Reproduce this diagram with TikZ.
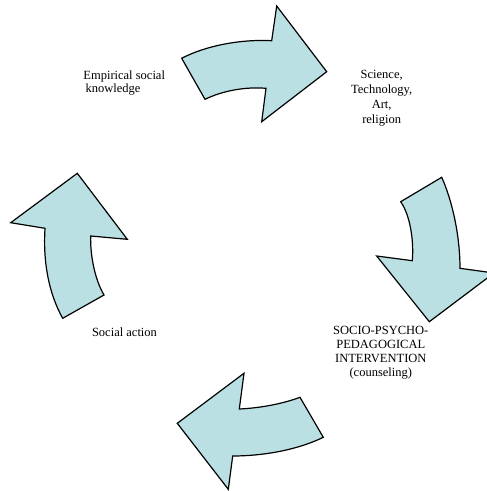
\documentclass[tikz,border=0pt]{standalone}
\usepackage{fontspec}
\setmainfont{Liberation Serif}
\definecolor{arrowblue}{RGB}{187,224,227}

\begin{document}
\begin{tikzpicture}[x=1pt,y=-1pt,
  cyclearrow/.style={fill=arrowblue, draw=black, line width=1.2pt, line join=miter},
  steplabel/.style={inner sep=0pt, align=center, font=\fontsize{12.5}{15}\selectfont}]
\clip (0,0) rectangle (487,491);

% top arrow
\draw[cyclearrow] (181.7,58.3) .. controls (205,46) and (240,39) .. (271.7,40.7)
  -- (276.7,6) -- (326.7,71.7) -- (261.7,121.7) -- (266,88.3)
  .. controls (245,86.5) and (222,91) .. (205,99.3) -- cycle;

% right arrow
\draw[cyclearrow] (400.7,201.7) -- (441.7,177.3)
  .. controls (452,200) and (460,235) .. (460,268.3)
  -- (494,273) -- (429.3,321.7) -- (376.7,256) -- (412.3,260.7)
  .. controls (414,240) and (410,215) .. cycle;

% bottom arrow
\draw[cyclearrow] (300,397.3) -- (323.3,437.3)
  .. controls (295,451) and (260,456) .. (232.7,456)
  -- (228.3,489.3) -- (177.3,423.3) -- (244,373.3) -- (239.3,409)
  .. controls (260,408) and (282,404) .. cycle;

% left arrow
\draw[cyclearrow] (62.7,318.3) -- (104,295)
  .. controls (95,280) and (90,255) .. (90.7,236)
  -- (127.3,239.3) -- (77.3,173.3) -- (10.7,222.7) -- (45,228.3)
  .. controls (43,260) and (48,292) .. cycle;

% stage labels
\node[steplabel, align=left, font=\fontsize{12.5}{12.5}\selectfont] (empirical) at (124.2,83) {Empirical social\\\,knowledge};
\node[steplabel] (science) at (381.7,98) {Science,\\Technology,\\Art,\\religion};
\node[steplabel, font=\fontsize{12.5}{14}\selectfont] (intervention) at (380.8,353) {SOCIO-PSYCHO-\\PEDAGOGICAL\\INTERVENTION\\(counseling)};
\node[steplabel] (action) at (124.5,332) {Social action};
\end{tikzpicture}
\end{document}
